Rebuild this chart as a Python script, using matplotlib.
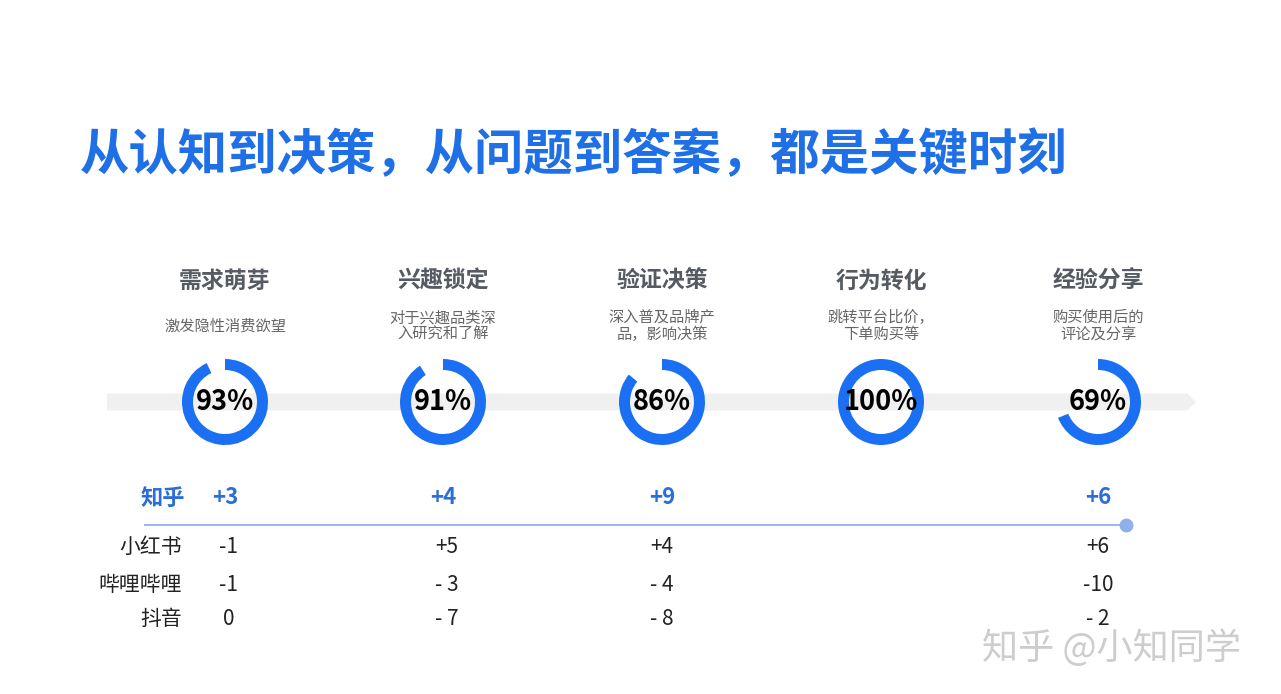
import matplotlib
matplotlib.use("Agg")
import matplotlib.pyplot as plt
from matplotlib.patches import FancyArrow

plt.rcParams['font.family'] = ['Noto Sans CJK SC', 'DejaVu Sans']

# ---- data ----
title = "从认知到决策，从问题到答案，都是关键时刻"
stages = ["需求萌芽", "兴趣锁定", "验证决策", "行为转化", "经验分享"]
descs = ["激发隐性消费欲望", "对于兴趣品类深\n入研究和了解", "深入普及品牌产\n品，影响决策",
         "跳转平台比价，\n下单购买等", "购买使用后的\n评论及分享"]
pct = [93, 91, 86, 100, 69]
platforms = ["知乎", "小红书", "哔哩哔哩", "抖音"]
zhihu = ["+3", "+4", "+9", "", "+6"]
xhs = ["-1", "+5", "+4", "", "+6"]
bili = ["-1", "- 3", "- 4", "", "-10"]
douyin = ["0", "- 7", "- 8", "", "- 2"]

W, H = 1281, 694
fig = plt.figure(figsize=(W / 100, H / 100), dpi=100)
ax = fig.add_axes([0, 0, 1, 1])

def Y(py):
    return H - py

BLUE = "#1a6ff2"
TBLUE = "#1f6fe6"
ZBLUE = "#2a6ed8"

xs = [225, 443, 662, 881, 1098]
cy = 402

# gray band arrow
ax.add_patch(FancyArrow(107, Y(cy), 1080, 0, width=17, head_width=17, head_length=9,
                        length_includes_head=False, color="#f0f0f0", lw=0, zorder=1))

# title
ax.text(80, Y(156), title, fontsize=35.6, fontweight='bold', color=TBLUE,
        ha='left', va='center')

for i, x in enumerate(xs):
    ax.text(x, Y(281), stages[i], fontsize=16.5, fontweight='bold', color="#555a63",
            ha='center', va='center')
    ax.text(x, Y(326), descs[i], fontsize=11, color="#666666", ha='center',
            va='center', linespacing=1.0)
    p = pct[i]
    vals = [p, 100 - p] if p < 100 else [100]
    cols = [BLUE, 'none'] if p < 100 else [BLUE]
    ax.pie(vals, colors=cols, center=(x, Y(cy)), radius=43, startangle=90,
           counterclock=False, wedgeprops=dict(width=11, linewidth=0), frame=True)
    ax.text(x, Y(cy), f"{p}%", fontsize=19.5, fontweight='bold', color="black",
            ha='center', va='center', zorder=5)

# platform rows
row_y = [498, 547, 585, 619]
rows = [zhihu, xhs, bili, douyin]
for j, (name, vals) in enumerate(zip(platforms, rows)):
    if j == 0:
        ax.text(185, Y(row_y[j]), name, fontsize=16, fontweight='bold', color=ZBLUE,
                ha='right', va='center')
    else:
        ax.text(182, Y(row_y[j]), name, fontsize=15, color="#222222",
                ha='right', va='center')
    for i, v in enumerate(vals):
        if not v:
            continue
        if j == 0:
            ax.text(xs[i], Y(row_y[j]), v, fontsize=16, fontweight='bold', color=ZBLUE,
                    ha='center', va='center')
        else:
            ax.text(xs[i] + 4 if i < 2 else xs[i], Y(row_y[j]), v, fontsize=15,
                    color="#222222", ha='center', va='center')

# separator line with end dot
ax.plot([145, 1126], [Y(525), Y(525)], color="#8fb0e8", lw=1.3, zorder=2)
ax.plot([1126], [Y(525)], 'o', color="#8fb0e8", ms=9, zorder=3)

# watermark
ax.text(1112, Y(648), "知乎 @小知同学", fontsize=26, color="#cdcdcd",
        ha='center', va='center')

ax.set_xlim(0, W)
ax.set_ylim(0, H)
ax.set_aspect('auto')
ax.axis('off')
fig.savefig("out.png", dpi=100, facecolor="white")
